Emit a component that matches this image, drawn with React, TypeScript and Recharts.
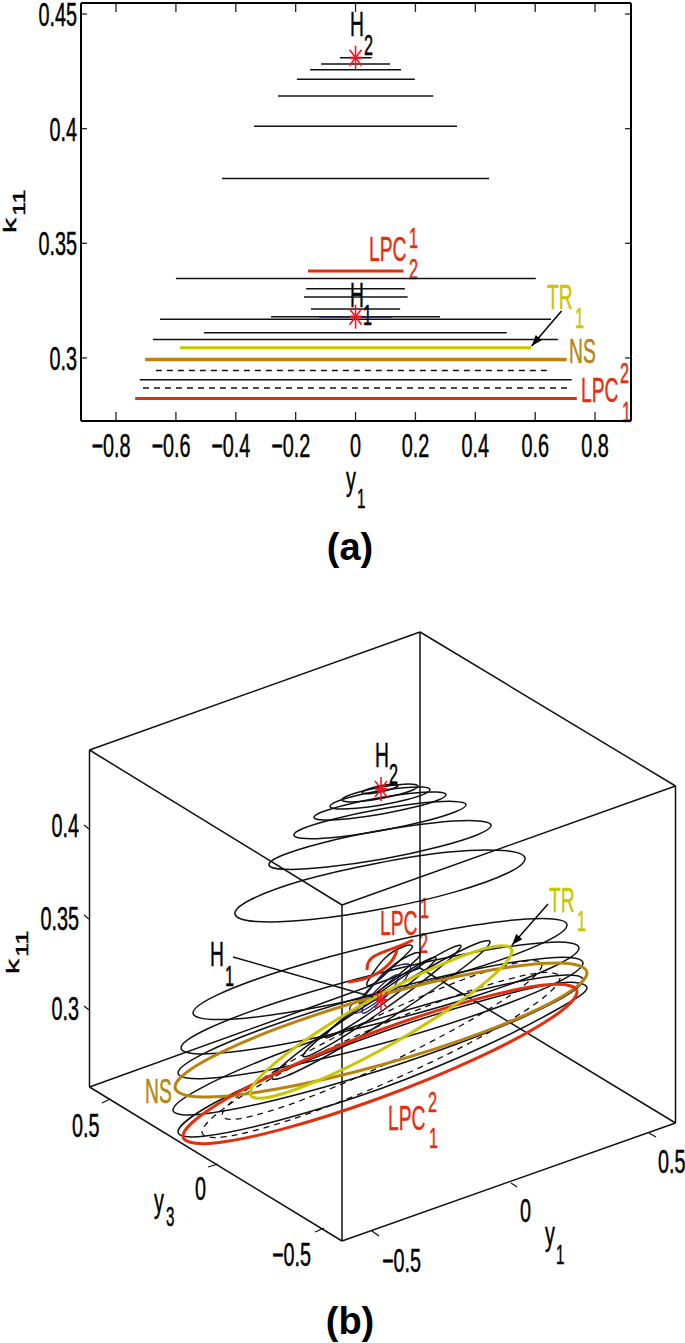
import React from "react";
import { ComposedChart, Line, XAxis, YAxis } from "recharts";

const RED = "#e2300f";
const YELLOW = "#c9c600";
const GOLD = "#b8840f";
const NAVY = "#1d1d5a";
const STAR = "#f5141e";

// (a) ticks
const y1Ticks = [-0.8, -0.6, -0.4, -0.2, 0, 0.2, 0.4, 0.6, 0.8];
const k11Ticks = [0.3, 0.35, 0.4, 0.45];
const y1Domain = [-0.917, 0.92];
const k11Domain = [0.2725, 0.4548];

// (a) limit cycles: [k11, y1 min, y1 max]
const upperBranch = [
    [0.4309, -0.052, 0.054],
    [0.4282, -0.115, 0.115],
    [0.4257, -0.152, 0.152],
    [0.4215, -0.196, 0.198],
    [0.4142, -0.259, 0.259],
    [0.4011, -0.339, 0.339],
    [0.3783, -0.446, 0.446],
];
const lowerBranch = [
    [0.3346, -0.6, 0.602],
    [0.3302, -0.165, 0.165],
    [0.3266, -0.172, 0.174],
    [0.3214, -0.149, 0.149],
    [0.318, -0.282, 0.282],
    [0.3169, -0.653, 0.653],
    [0.311, -0.506, 0.505],
    [0.308, -0.677, 0.676],
    [0.2905, -0.721, 0.722],
];
const unstableBranch = [
    [0.2945, -0.667, 0.656],
    [0.2869, -0.71, 0.709],
];
const navyCycle = [0.3179, -0.122, 0.122];
const lpc12Cycle = [0.3379, -0.159, 0.16];
const tr1Cycle = [0.3045, -0.586, 0.586];
const nsCycle = [0.2993, -0.703, 0.705];
const lpc21Cycle = [0.2823, -0.736, 0.739];
const hopfPoints = [
    [0, 0.4309],
    [0, 0.318],
];
const tr1Arrow = [
    [0.688, 0.3205],
    [0.588, 0.3052],
];

const cycleA = [[398, 785.5], [389.4, 789.8], [371.4, 793.4], [362, 792.5], [370.6, 788.2], [388.6, 784.6]];
const cycleB = [[418, 786], [413.4, 789.7], [399.9, 794.3], [381, 798.5], [361.9, 801.3], [347.6, 801.8], [342, 800], [346.6, 796.3], [360.1, 791.7], [379, 787.5], [398.1, 784.7], [412.4, 784.2]];
const cycleC = [[430, 789.5], [424, 794.1], [406.3, 799.8], [381.5, 805], [356.3, 808.3], [337.5, 808.9], [330, 806.5], [335.9, 801.9], [353.7, 796.2], [378.5, 791], [403.7, 787.7], [422.6, 787.1]];
const cycleD = [[446, 794.5], [438.2, 800], [414.7, 807.1], [382, 814], [348.7, 818.7], [323.8, 820], [314, 817.5], [321.8, 812], [345.3, 804.9], [378, 798], [411.3, 793.3], [436.2, 792]];
const cycleE = [[466, 804.5], [455.5, 811.8], [424.7, 821.3], [382, 830.5], [338.7, 836.9], [306.5, 838.6], [294, 835.5], [303.5, 828.2], [335.3, 818.7], [378, 809.5], [421.3, 803.1], [453.5, 801.4]];
const cycleF = [[491, 825], [477.6, 834.7], [438, 847], [383, 859], [327, 867], [285.4, 869.3], [269, 865], [282.4, 855.3], [322, 842.9], [377, 831], [433, 822.9], [474.6, 820.7]];
const cycleG = [[525, 858], [507.6, 873], [456, 891.6], [384, 908.6], [311, 919.6], [256, 921.5], [235, 914], [252, 899], [304, 880], [376, 863.4], [449, 852], [503.6, 850.5]];
const cycleH = [[567, 925], [542, 943.4], [473.5, 968.7], [380, 994], [286.5, 1012.7], [218, 1019.6], [193, 1013], [218, 994.6], [286.5, 969.3], [380, 944], [473.5, 925.3], [542, 918.4]];
const cycleI = [[579, 948], [552.3, 967.2], [479.5, 994.7], [380, 1023], [280.5, 1044.7], [207.7, 1053.8], [181, 1048], [207.7, 1028.8], [280.5, 1001.3], [380, 973], [479.5, 951.3], [552.3, 942.2]];
const cycleJ = [[583, 963], [555.4, 983.4], [481.3, 1013], [380.5, 1044], [279.3, 1068], [205.6, 1078.6], [178, 1073], [205.6, 1052.6], [279.3, 1023], [380.5, 992], [481.3, 968], [555.4, 957.4]];
const cycleK = [[583, 980], [555.5, 1001.7], [480.5, 1035], [378, 1071], [275.5, 1100], [200.5, 1114.3], [173, 1110], [200.5, 1088.3], [275.5, 1055], [378, 1019], [480.5, 990], [555.5, 975.7]];
const cycleL = [[587, 988], [559.6, 1008], [484.8, 1046], [382.5, 1088], [280.2, 1120], [205.4, 1136], [178, 1132], [205.4, 1108], [280.2, 1072], [382.5, 1032], [484.8, 1000], [559.6, 983]];
const narrowA = [[490, 942], [475.4, 958], [435.5, 988], [381, 1024], [326.5, 1056], [286.6, 1075.9], [272, 1078], [286.6, 1061.9], [326.5, 1031.9], [381, 996], [435.5, 964], [475.4, 944]];
const narrowB = [[461, 946], [450.4, 958.4], [421.5, 982.2], [382, 1011], [342.5, 1037.2], [313.6, 1053.6], [303, 1056], [313.6, 1043.6], [342.5, 1019.8], [382, 991], [421.5, 964.8], [450.4, 948.4]];
const narrowC = [[436, 958], [428.6, 967.3], [408.3, 984.6], [380.5, 1005.5], [352.8, 1024.2], [332.4, 1035.7], [325, 1037], [332.4, 1027.7], [352.8, 1010.4], [380.5, 989.5], [408.3, 970.8], [428.6, 959.3]];
const narrowD = [[367, 983], [375, 983], [395, 965], [412, 948], [405, 946], [385, 958]];
const narrowE = [[360, 1000], [368, 1000], [392, 980], [418, 958], [415, 953], [390, 968]];
const navyA = [[350, 1007], [360, 1012], [400, 985], [410, 965], [387, 970], [367, 993]];
const navyB = [[362, 1012], [370, 1010], [392, 990], [398, 975], [385, 982], [368, 1000]];
const dashedA = [[542, 965], [520.6, 988], [462, 1025], [382, 1066], [302, 1100], [243.4, 1118], [222, 1115], [243.4, 1092], [302, 1055], [382, 1014], [462, 980], [520.6, 962]];
const dashedB = [[560, 978], [536, 1003.3], [470.5, 1042.5], [381, 1085], [291.5, 1119.5], [226, 1136.7], [202, 1132], [226, 1106.7], [291.5, 1067.5], [381, 1025], [470.5, 990.5], [536, 973.3]];
const tr1Loop = [[512, 951], [494.4, 974.5], [446.5, 1010.7], [381, 1050], [315.5, 1081.7], [267.6, 1097.5], [250, 1093], [267.6, 1069.5], [315.5, 1033.3], [381, 994], [446.5, 962.3], [494.4, 946.5]];
const nsLoop = [[587, 973], [559.4, 998], [484, 1031.8], [381, 1065], [278, 1088.8], [202.6, 1097], [175, 1087], [202.6, 1062], [278, 1028.2], [381, 995], [484, 971.2], [559.4, 963]];
const lpc21Loop = [[577, 992], [550.6, 1018.6], [478.5, 1057.4], [380, 1098], [281.5, 1129.4], [209.4, 1143.4], [183, 1136], [209.4, 1109.4], [281.5, 1070.6], [380, 1030], [478.5, 998.6], [550.6, 984.6]];
const lpc12Lower = [[348, 982], [370, 977], [390, 963], [397, 950]];
const lpc12Upper = [[367, 970], [373, 957], [397, 947], [413, 940]];

const solidLoops = [cycleA, cycleB, cycleC, cycleD, cycleE, cycleF, cycleG, cycleH, cycleI, cycleJ, cycleK, cycleL, narrowA, narrowB, narrowC, narrowD, narrowE];
const navyLoops = [navyA, navyB];
const dashedLoops = [dashedA, dashedB];

// cube edges and tick marks on the same plane
const boxEdges = [
    [[89.5, 750], [89.5, 1087]],
    [[342, 905], [342, 1241]],
    [[420, 632], [420, 968]],
    [[675.5, 786], [675.5, 1123]],
    [[89.5, 750], [420, 632]],
    [[420, 632], [675.5, 786]],
    [[675.5, 786], [342, 905]],
    [[342, 905], [89.5, 750]],
    [[89.5, 1087], [342, 1241]],
    [[342, 1241], [675.5, 1123]],
    [[89.5, 1087], [420, 968]],
    [[420, 968], [675.5, 1123]],
];
const boxTicks = [
    [[84, 825], [89, 829]],
    [[84, 915], [89, 919]],
    [[84, 1006], [89, 1010]],
    [[102, 1103], [110, 1099]],
    [[208, 1167], [218, 1164]],
    [[315, 1232], [324, 1228]],
    [[372, 1231], [379, 1236]],
    [[511, 1183], [517, 1187]],
    [[649, 1133], [656, 1137]],
];
const h1Leader = [[233, 957], [373, 997]];
const tr1Leader = [[548, 904], [512, 945]];
const starsB = [[381, 789], [381, 1000]];

const closedSpline = (ctx: any) => {
    let pts: number[][] = [];
    return {
        areaStart() {},
        areaEnd() {},
        lineStart() {
            pts = [];
        },
        point(x: number, y: number) {
            pts.push([x, y]);
        },
        lineEnd() {
            const n = pts.length;
            ctx.moveTo(pts[0][0], pts[0][1]);
            for (let i = 0; i < n; i++) {
                const p0 = pts[(i - 1 + n) % n];
                const p1 = pts[i];
                const p2 = pts[(i + 1) % n];
                const p3 = pts[(i + 2) % n];
                ctx.bezierCurveTo(
                    p1[0] + (p2[0] - p0[0]) / 6,
                    p1[1] + (p2[1] - p0[1]) / 6,
                    p2[0] - (p3[0] - p1[0]) / 6,
                    p2[1] - (p3[1] - p1[1]) / 6,
                    p2[0],
                    p2[1]
                );
            }
            ctx.closePath();
        },
    };
};

const toRows = (pts: number[][]) => pts.map(([x, y]) => ({ x, y }));
const segment = ([k, lo, hi]: number[]) => [
    { x: lo, y: k },
    { x: hi, y: k },
];

// MATLAB ticks point into the box on all four sides
const X_TICK_LEN = 0.0039;
const Y_TICK_LEN = 0.02;
const xTickMarks = y1Ticks.flatMap((v) => [
    [{ x: v, y: k11Domain[0] }, { x: v, y: k11Domain[0] + X_TICK_LEN }],
    [{ x: v, y: k11Domain[1] }, { x: v, y: k11Domain[1] - X_TICK_LEN }],
]);
const yTickMarks = k11Ticks.flatMap((v) => [
    [{ x: y1Domain[0], y: v }, { x: y1Domain[0] + Y_TICK_LEN, y: v }],
    [{ x: y1Domain[1], y: v }, { x: y1Domain[1] - Y_TICK_LEN, y: v }],
]);

function Txt({ x, y, s = 35, sx = 0.55, c = "#000", t, anchor = "start" }: any) {
    return (
        <text
            transform={`translate(${x},${y}) scale(${sx},1)`}
            fontFamily="'Liberation Sans', Arial, sans-serif"
            fontSize={s}
            fill={c}
            stroke={c}
            strokeWidth={0.5}
            textAnchor={anchor}
        >
            {t}
        </text>
    );
}

function K11({ dx = 0, dy = 0 }: any) {
    return (
        <g fontFamily="'Liberation Sans', Arial, sans-serif" fill="#000" stroke="#000" strokeWidth={0.4}>
            <text transform={`translate(${16 + dx},${233 + dy}) rotate(-90) scale(1.67,1)`} fontSize={18}>
                k
            </text>
            <text transform={`translate(${25 + dx},${216 + dy}) rotate(-90) scale(1.5,1)`} fontSize={17}>
                11
            </text>
        </g>
    );
}

function Caption({ t, y }: any) {
    return (
        <text x={350} y={y} textAnchor="middle" fontFamily="'Liberation Sans', Arial, sans-serif" fontWeight="bold" fontSize={38}>
            {t}
        </text>
    );
}

const StarDot = ({ cx, cy }: any) => (
    <g key={`${cx}-${cy}`} stroke={STAR} strokeWidth={1.6}>
        <line x1={cx} y1={cy - 12} x2={cx} y2={cy + 12} />
        <line x1={cx - 6} y1={cy - 8} x2={cx + 6} y2={cy + 8} />
        <line x1={cx - 6} y1={cy + 8} x2={cx + 6} y2={cy - 8} />
        <line x1={cx - 6} y1={cy} x2={cx + 6} y2={cy} strokeWidth={2.4} />
    </g>
);

const ArrowDot = ({ cx, cy, index }: any) =>
    index === 1 ? (
        <polygon key="head" points="0,0 -11,-4 -11,4" fill="#000" transform={`translate(${cx},${cy}) rotate(131)`} />
    ) : (
        <g key="tail" />
    );

const XTick = ({ x, payload }: any) => (
    <Txt x={payload.value < 0 ? x - 5 : x} y={457} s={33} sx={0.6} anchor="middle" t={String(payload.value).replace("-", "\u2212")} />
);
const YTick = ({ y, payload }: any) => <Txt x={77} y={y + 12} s={33} sx={0.6} anchor="end" t={String(payload.value)} />;

function line(key: string, data: any[], stroke: string, width: number, extra: any = {}) {
    return (
        <Line
            key={key}
            data={data}
            dataKey="y"
            stroke={stroke}
            strokeWidth={width}
            dot={false}
            activeDot={false}
            legendType="none"
            isAnimationActive={false}
            {...extra}
        />
    );
}

const boxLine = { stroke: "#000", strokeWidth: 2 };

function PanelA() {
    return (
        <ComposedChart width={685} height={600} margin={{ top: 2, right: 53, bottom: 139, left: 41 }}>
            <XAxis dataKey="x" type="number" domain={y1Domain} ticks={y1Ticks} interval={0} height={40} tick={XTick} tickSize={0} axisLine={boxLine} tickLine={false} allowDataOverflow />
            <XAxis xAxisId="top" orientation="top" dataKey="x" type="number" domain={y1Domain} ticks={y1Ticks} interval={0} height={1} tick={false} tickSize={0} axisLine={boxLine} tickLine={false} allowDataOverflow />
            <YAxis type="number" domain={k11Domain} ticks={k11Ticks} interval={0} width={40} tick={YTick} tickSize={0} axisLine={boxLine} tickLine={false} allowDataOverflow />
            <YAxis yAxisId="right" orientation="right" type="number" domain={k11Domain} ticks={k11Ticks} interval={0} width={1} tick={false} tickSize={0} axisLine={boxLine} tickLine={false} allowDataOverflow />

            {line("mirror", segment(navyCycle), "none", 0, { xAxisId: "top", yAxisId: "right" })}
            {xTickMarks.map((m, i) => line(`xm${i}`, m, "#222", 1.3))}
            {yTickMarks.map((m, i) => line(`ym${i}`, m, "#222", 1.3))}
            {upperBranch.map((c, i) => line(`u${i}`, segment(c), "#111", 1.5))}
            {lowerBranch.map((c, i) => line(`l${i}`, segment(c), "#111", 1.5))}
            {unstableBranch.map((c, i) => line(`d${i}`, segment(c), "#111", 1.5, { strokeDasharray: "6 5" }))}
            {line("navy", segment(navyCycle), NAVY, 1.5)}
            {line("lpc12", segment(lpc12Cycle), RED, 3)}
            {line("tr1", segment(tr1Cycle), YELLOW, 3)}
            {line("ns", segment(nsCycle), GOLD, 3.5)}
            {line("lpc21", segment(lpc21Cycle), RED, 3)}
            {line("arrow", toRows(tr1Arrow), "#000", 1.5, { dot: ArrowDot })}
            {line("hopf", toRows(hopfPoints), "none", 0, { dot: StarDot })}

            <Txt x={350} y={36} t="H" />
            <Txt x={364} y={55} s={29} sx={0.56} t="2" />
            <Txt x={350} y={307} t="H" />
            <Txt x={363} y={325} s={29} sx={0.56} t="1" />
            <Txt x={369} y={261} t="LPC" c={RED} />
            <Txt x={409} y={248} s={29} sx={0.56} t="1" c={RED} />
            <Txt x={409} y={279} s={29} sx={0.56} t="2" c={RED} />
            <Txt x={547} y={309} t="TR" c={YELLOW} />
            <Txt x={575} y={328} s={29} sx={0.56} t="1" c={YELLOW} />
            <Txt x={569} y={363} t="NS" c={GOLD} />
            <Txt x={581} y={402} t="LPC" c={RED} />
            <Txt x={620} y={383} s={29} sx={0.56} t="2" c={RED} />
            <Txt x={622} y={422} s={29} sx={0.56} t="1" c={RED} />
            <Txt x={346} y={490} s={33} sx={0.6} t="y" />
            <Txt x={357} y={508} s={27} sx={0.56} t="1" />
            <K11 />
            <Caption t="(a)" y={560} />
        </ComposedChart>
    );
}

function PanelB() {
    return (
        <ComposedChart width={685} height={743} margin={{ top: 0, right: 0, bottom: 0, left: 0 }}>
            <XAxis dataKey="x" type="number" domain={[0, 685]} hide allowDataOverflow />
            <YAxis type="number" domain={[600, 1343]} reversed hide allowDataOverflow />

            {boxEdges.map((e, i) => line(`e${i}`, toRows(e), "#111", 1.5))}
            {boxTicks.map((e, i) => line(`t${i}`, toRows(e), "#111", 1.2))}
            {solidLoops.map((c, i) => line(`s${i}`, toRows(c), "#111", 1.5, { type: closedSpline }))}
            {navyLoops.map((c, i) => line(`n${i}`, toRows(c), NAVY, 1.3, { type: closedSpline }))}
            {dashedLoops.map((c, i) => line(`b${i}`, toRows(c), "#111", 1.3, { type: closedSpline, strokeDasharray: "6 5" }))}
            {line("nsLoop", toRows(nsLoop), GOLD, 3, { type: closedSpline })}
            {line("lpc21Loop", toRows(lpc21Loop), RED, 3, { type: closedSpline })}
            {line("tr1Loop", toRows(tr1Loop), YELLOW, 3, { type: closedSpline })}
            {line("lpc12Lower", toRows(lpc12Lower), RED, 3, { type: "natural" })}
            {line("lpc12Upper", toRows(lpc12Upper), RED, 3, { type: "natural" })}
            {line("h1Leader", toRows(h1Leader), "#111", 1.4)}
            {line("tr1Leader", toRows(tr1Leader), "#000", 1.4, { dot: ArrowDot })}
            {line("stars", toRows(starsB), "none", 0, { dot: StarDot })}

            <g transform="translate(0,-600)">
                <Txt x={375} y={767} t="H" />
                <Txt x={389} y={784} s={29} sx={0.56} t="2" />
                <Txt x={210} y={966} t="H" />
                <Txt x={225} y={986} s={29} sx={0.56} t="1" />
                <Txt x={380} y={935} t="LPC" c={RED} />
                <Txt x={420} y={918} s={29} sx={0.56} t="1" c={RED} />
                <Txt x={419} y={953} s={29} sx={0.56} t="2" c={RED} />
                <Txt x={549} y={912} t="TR" c={YELLOW} />
                <Txt x={577} y={931} s={29} sx={0.56} t="1" c={YELLOW} />
                <Txt x={145} y={1103} t="NS" c={GOLD} />
                <Txt x={388} y={1130} t="LPC" c={RED} />
                <Txt x={428} y={1112} s={29} sx={0.56} t="2" c={RED} />
                <Txt x={429} y={1148} s={29} sx={0.56} t="1" c={RED} />
                <Txt x={79} y={837} s={33} sx={0.6} anchor="end" t="0.4" />
                <Txt x={79} y={930} s={33} sx={0.6} anchor="end" t="0.35" />
                <Txt x={79} y={1020} s={33} sx={0.6} anchor="end" t="0.3" />
                <Txt x={72} y={1137} s={33} sx={0.6} t="0.5" />
                <Txt x={195} y={1200} s={33} sx={0.6} t="0" />
                <Txt x={272} y={1266} s={33} sx={0.6} t={"\u22120.5"} />
                <Txt x={154} y={1212} s={33} sx={0.6} t="y" />
                <Txt x={166} y={1226} s={27} sx={0.56} t="3" />
                <Txt x={382} y={1272} s={33} sx={0.6} t={"\u22120.5"} />
                <Txt x={520} y={1222} s={33} sx={0.6} t="0" />
                <Txt x={658} y={1173} s={33} sx={0.6} t="0.5" />
                <Txt x={545} y={1245} s={33} sx={0.6} t="y" />
                <Txt x={556} y={1264} s={27} sx={0.56} t="1" />
                <K11 dx={3} dy={741} />
                <Caption t="(b)" y={1334} />
            </g>
        </ComposedChart>
    );
}

export default function App() {
    return (
        <div style={{ position: "absolute", left: 0, top: 0, width: 685, height: 1343, background: "#fff", overflow: "hidden" }}>
            <div style={{ position: "absolute", left: 0, top: 0 }}>
                <PanelA />
            </div>
            <div style={{ position: "absolute", left: 0, top: 600 }}>
                <PanelB />
            </div>
        </div>
    );
}
